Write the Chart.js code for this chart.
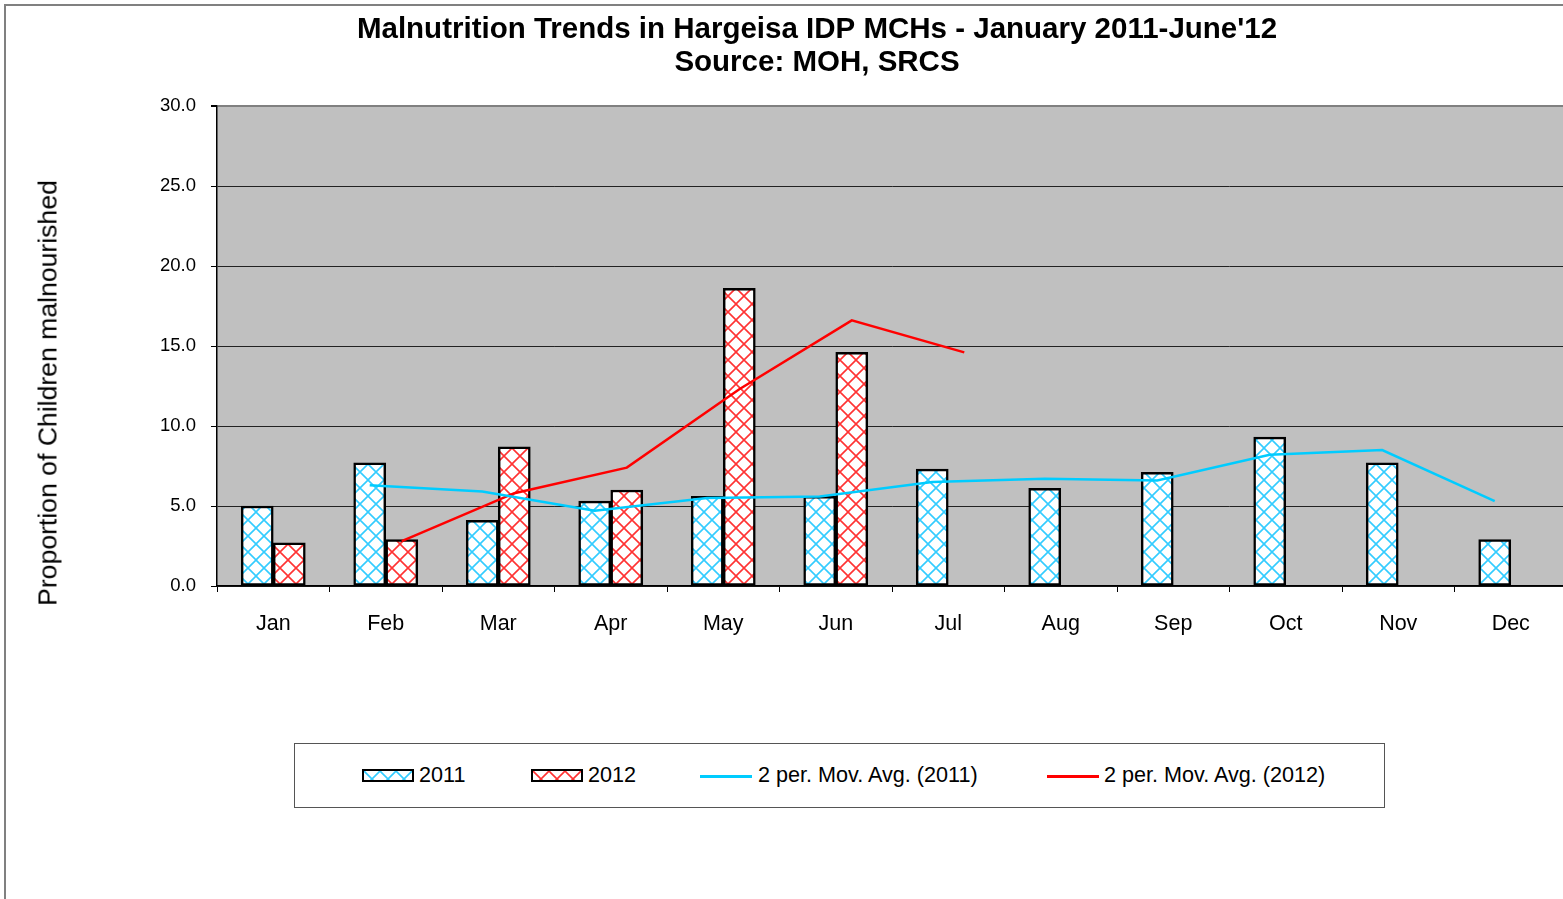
<!DOCTYPE html>
<html>
<head>
<meta charset="utf-8">
<script src="https://cdn.jsdelivr.net/npm/chart.js@4.4.1/dist/chart.umd.min.js"></script>
<style>
  html, body { margin: 0; padding: 0; background: #fff; overflow: hidden; width: 1563px; height: 899px; }
  body { position: relative; font-family: "Liberation Sans", Arial, sans-serif; }
  #frame { position: absolute; left: 4px; top: 4px; width: 1700px; height: 1000px; border-left: 2px solid #808080; border-top: 2px solid #808080; }
  #wrap { position: absolute; left: 0; top: 0; width: 1634px; height: 899px; }
  #ytitle { position: absolute; left: 48px; top: 393px; transform: translate(-50%, -50%) rotate(-90deg); white-space: nowrap; font-size: 26.6px; color: #000; }
  #legend { position: absolute; left: 294px; top: 743px; width: 1091px; height: 65px; box-sizing: border-box; border: 1px solid #555; background: #fff; }
  .sw { position: absolute; box-sizing: border-box; border: 2px solid #000; width: 52px; height: 13px; top: 25px; background-color: #fff; }
  .ln { position: absolute; height: 2.5px; width: 52px; top: 31px; }
  .lt { position: absolute; top: 18px; font-size: 21.6px; line-height: 26px; white-space: nowrap; color: #000; }
</style>
</head>
<body>
<div id="frame"></div>
<div id="wrap"><canvas id="c" width="1634" height="899"></canvas></div>
<div id="ytitle">Proportion of Children malnourished</div>
<div id="legend">
  <div class="sw" id="sw1" style="left:67px"></div><div class="lt" style="left:124px">2011</div>
  <div class="sw" id="sw2" style="left:236px"></div><div class="lt" style="left:293px">2012</div>
  <div class="ln" style="left:405px;background:#00CCFF"></div><div class="lt" style="left:463px">2 per. Mov. Avg. (2011)</div>
  <div class="ln" style="left:752px;background:#FF0000"></div><div class="lt" style="left:809px">2 per. Mov. Avg. (2012)</div>
</div>
<script>
// ---- data ----
const months = ['Jan', 'Feb', 'Mar', 'Apr', 'May', 'Jun', 'Jul', 'Aug', 'Sep', 'Oct', 'Nov', 'Dec'];
const values2011 = [5.0, 7.7, 4.1, 5.3, 5.6, 5.6, 7.3, 6.1, 7.1, 9.3, 7.7, 2.9];
const values2012 = [2.7, 2.9, 8.7, 6.0, 18.6, 14.6];
const movAvg2011 = [null, 6.3, 5.9, 4.7, 5.5, 5.6, 6.5, 6.7, 6.6, 8.2, 8.5, 5.3];
const movAvg2012 = [null, 2.8, 5.8, 7.4, 12.3, 16.6, 14.6];
const yTicks = [0, 5, 10, 15, 20, 25, 30];
const seriesNames = ['2011', '2012', '2 per. Mov. Avg. (2011)', '2 per. Mov. Avg. (2012)'];
const titleLines = ["Malnutrition Trends in Hargeisa IDP MCHs - January 2011-June'12", 'Source: MOH, SRCS'];

// ---- styles ----
const FONT = '"Liberation Sans", Arial, sans-serif';
const GROUP_PCT = 0.57;              // share of a month slot taken by the pair of bars
const barShift = GROUP_PCT / 4;      // centre of each bar relative to month centre (in month units)

function makeHatch(color) {
  const s = 16;
  const cv = document.createElement('canvas');
  cv.width = s; cv.height = s;
  const g = cv.getContext('2d');
  g.fillStyle = '#fff';
  g.fillRect(0, 0, s, s);
  g.strokeStyle = color;
  g.lineWidth = 1.6;
  g.beginPath();
  g.moveTo(-2, -2); g.lineTo(s + 2, s + 2);
  g.moveTo(s + 2, -2); g.lineTo(-2, s + 2);
  g.stroke();
  return cv;
}
const hatchCyan = makeHatch('#33CCFF');
const hatchRed = makeHatch('#FF3333');
const ctx = document.getElementById('c').getContext('2d');
const patCyan = ctx.createPattern(hatchCyan, 'repeat');
const patRed = ctx.createPattern(hatchRed, 'repeat');
document.getElementById('sw1').style.backgroundImage = 'url(' + hatchCyan.toDataURL() + ')';
document.getElementById('sw2').style.backgroundImage = 'url(' + hatchRed.toDataURL() + ')';

function points(arr, shift) {
  const pts = [];
  arr.forEach((v, i) => { if (v !== null) pts.push({ x: i + shift, y: v }); });
  return pts;
}

const plotBg = {
  id: 'plotBg',
  beforeDraw(chart) {
    const a = chart.chartArea;
    const c = chart.ctx;
    c.save();
    c.fillStyle = '#C0C0C0';
    c.fillRect(a.left, a.top, a.right - a.left, a.bottom - a.top);
    c.restore();
  }
};

const barCommon = { borderColor: '#000', borderWidth: 2.5, borderSkipped: false, grouped: false, categoryPercentage: 1, barPercentage: 1, order: 2, xAxisID: 'xl', yAxisID: 'y' };
const lineCommon = { type: 'line', borderWidth: 2.5, pointRadius: 0, tension: 0, fill: false, order: 1, xAxisID: 'xl', yAxisID: 'y' };

new Chart(ctx, {
  type: 'bar',
  data: {
    labels: months,
    datasets: [
      Object.assign({ label: seriesNames[0], data: points(values2011, -barShift), backgroundColor: patCyan }, barCommon),
      Object.assign({ label: seriesNames[1], data: points(values2012, barShift), backgroundColor: patRed }, barCommon),
      Object.assign({ label: seriesNames[2], data: points(movAvg2011, -barShift), borderColor: '#00CCFF' }, lineCommon),
      Object.assign({ label: seriesNames[3], data: points(movAvg2012, barShift), borderColor: '#FF0000' }, lineCommon)
    ]
  },
  options: {
    responsive: false,
    animation: false,
    devicePixelRatio: 1,
    layout: { padding: 0 },
    plugins: {
      legend: { display: false },
      tooltip: { enabled: false },
      title: {
        display: true,
        text: titleLines,
        color: '#000',
        font: { family: FONT, size: 29.5, weight: 'bold', lineHeight: '33px' },
        padding: { top: 13.5, bottom: 26.5 }
      }
    },
    scales: {
      x: {
        type: 'category',
        position: 'bottom',
        offset: true,
        afterFit(s) { s.height = 899 - 586; },
        grid: { display: true, drawOnChartArea: false, drawTicks: true, tickLength: 6, tickColor: '#000', offset: true, color: '#000' },
        border: { display: true, color: '#000', width: 1.5 },
        ticks: { color: '#000', font: { family: FONT, size: 21.5 }, padding: 19, maxRotation: 0, autoSkip: false }
      },
      xl: {
        type: 'linear',
        position: 'bottom',
        display: false,
        offset: false,
        grid: { offset: false },
        min: -0.5,
        max: 11.5
      },
      y: {
        type: 'linear',
        position: 'left',
        min: 0,
        max: 30,
        afterFit(s) { s.width = 217; },
        afterBuildTicks(s) { s.ticks = yTicks.map(v => ({ value: v })); },
        grid: {
          color: c => (c.tick && c.tick.value === 30 ? '#808080' : '#222'),
          lineWidth: c => (c.tick && c.tick.value === 30 ? 2 : 1),
          tickLength: 6,
          tickColor: '#000',
          drawTicks: true
        },
        border: { display: true, color: '#000', width: 1.5 },
        ticks: { color: '#000', font: { family: FONT, size: 18.5 }, padding: 15, callback: v => Number(v).toFixed(1) }
      },
      yr: {
        type: 'linear',
        position: 'right',
        display: true,
        min: 0,
        max: 30,
        afterFit(s) { s.width = 1634 - 1567; },
        grid: { display: false, drawOnChartArea: false },
        border: { display: false },
        ticks: { display: false }
      }
    }
  },
  plugins: [plotBg]
});
</script>
</body>
</html>
